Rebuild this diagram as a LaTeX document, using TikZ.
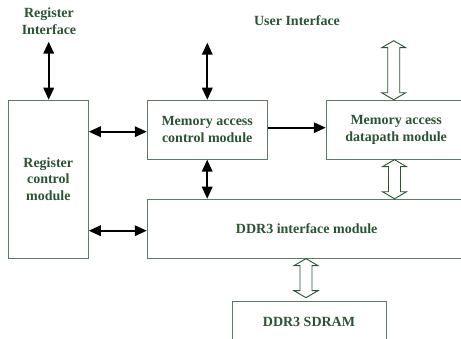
\documentclass[tikz,border=0pt]{standalone}
\usepackage{fontspec}
\setmainfont{Liberation Serif}
\usetikzlibrary{arrows.meta,calc}
\definecolor{txtgreen}{HTML}{2A5434}
\definecolor{boxgreen}{HTML}{5B7B62}
\tikzset{
  blk/.style={draw=boxgreen,line width=.9pt,fill=white,inner sep=0pt,text=txtgreen,
    font=\fontsize{14pt}{16.5pt}\selectfont\bfseries,align=center},
  lbl/.style={text=txtgreen,font=\fontsize{14pt}{16.5pt}\selectfont\bfseries,align=center},
  bus/.style={line width=1.8pt,{Triangle[length=12pt,width=10.5pt]}-{Triangle[length=12pt,width=10.5pt]}},
  onebus/.style={line width=1.8pt,-{Triangle[length=12pt,width=10.5pt]}},
  hollow/.style={draw=txtgreen,line width=.9pt,fill=white}
}
% hollow double arrow, #1 top point, #2 bottom point
\newcommand{\hollowarrow}[2]{%
  \draw[hollow] let \p1=#1, \p2=#2 in
    (\x1,\y1) -- (\x1+12pt,\y1-7pt) -- (\x1+6pt,\y1-7pt) -- (\x1+6pt,\y2+7pt) -- (\x1+12pt,\y2+7pt)
    -- (\x1,\y2) -- (\x1-12pt,\y2+7pt) -- (\x1-6pt,\y2+7pt) -- (\x1-6pt,\y1-7pt) -- (\x1-12pt,\y1-7pt) -- cycle;}
\begin{document}
\begin{tikzpicture}[x=1pt,y=-1pt,line join=miter]
  \clip (0,0) rectangle (461,339);
  % blocks
  \node[blk,minimum width=80pt,minimum height=158pt] (reg) at (48.3,179.2) {Register\\control\\module};
  \node[blk,minimum width=120pt,minimum height=59pt] (memctl) at (207.2,129.7) {Memory access\\control module};
  \node[blk,minimum width=140pt,minimum height=59pt] (datapath) at (396.2,129.7) {Memory access\\datapath module};
  \node[blk,minimum width=319pt,minimum height=59pt] (ddr) at (306.7,228.7) {DDR3 interface module};
  \node[blk,minimum width=154pt,minimum height=40pt] (sdram) at (309,321.7) {DDR3 SDRAM};
  % interface labels
  \node[lbl] (regiflbl) at (49,21) {Register\\Interface};
  \node[lbl] (usriflbl) at (297,21) {User Interface};
  \coordinate (regif) at (48.7,41.7);
  \coordinate (usrif) at (207.3,42.7);
  % control arrows
  \draw[bus] (regif) -- (regif |- reg.north);
  \draw[bus] (usrif) -- (usrif |- memctl.north);
  \draw[bus] (reg.east |- 0,131.7) -- (memctl.west |- 0,131.7);
  \draw[bus] (reg.east |- 0,230.7) -- (ddr.west |- 0,230.7);
  \draw[bus] (memctl.south) -- (memctl.south |- ddr.north);
  \draw[onebus] (memctl.east |- 0,127.7) -- (datapath.west |- 0,127.7);
  % data buses
  \hollowarrow{(393.7,40.7)}{(datapath.north -| 393.7,0)}
  \hollowarrow{(datapath.south -| 394.5,0)}{(ddr.north -| 394.5,0)}
  \hollowarrow{(ddr.south -| 306,0)}{(306,297.7)}
\end{tikzpicture}
\end{document}
